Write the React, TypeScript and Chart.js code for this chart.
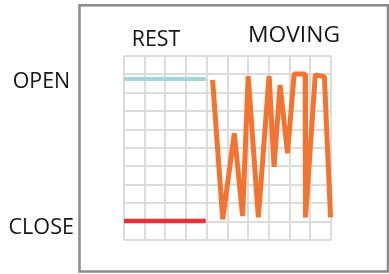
import React, { useEffect, useRef } from "react";
import { Chart, registerables } from "chart.js";

Chart.register(...registerables);

const restX = [0, 3.95];
const openLevel = [8.75, 8.75];
const closeLevel = [1.03, 1.03];
const movingX = [4.28, 4.77, 5.33, 5.73, 6.0, 6.49, 7.01, 7.25, 7.54, 7.9, 8.22, 8.75, 8.77, 9.24, 9.68, 9.98];
const movingY = [8.7, 1.12, 5.8, 1.3, 8.91, 1.23, 8.91, 3.98, 8.42, 4.71, 9.02, 9.02, 1.23, 8.97, 8.88, 1.23];
const stateLabels = ["OPEN", "CLOSE"];
const phaseLabels = ["REST", "MOVING"];

function fitText(ctx: any, text: string, x: number, y: number, w: number) {
  const m = ctx.measureText(text).width;
  const s = w / m;
  ctx.save();
  ctx.translate(x, y);
  ctx.scale(s, 1);
  ctx.fillText(text, 0, 0);
  ctx.restore();
}

const decor = {
  id: "decor",
  beforeDraw(chart: any) {
    const ctx = chart.ctx;
    ctx.save();
    ctx.fillStyle = "#ffffff";
    ctx.fillRect(0, 0, chart.width, chart.height);
    ctx.strokeStyle = "#8a8a8a";
    ctx.lineWidth = 2.5;
    ctx.strokeRect(79.5, 5.3, 308.5, 266.2);
    ctx.restore();
  },
  afterDraw(chart: any) {
    const ctx = chart.ctx;
    ctx.save();
    ctx.fillStyle = "#151515";
    ctx.font = '21px "Open Sans"';
    ctx.textBaseline = "alphabetic";
    ctx.textAlign = "left";
    fitText(ctx, stateLabels[0], 12.7, 88, 57.5);
    fitText(ctx, stateLabels[1], 8.5, 234, 65.5);
    fitText(ctx, phaseLabels[0], 131.7, 45.8, 48.5);
    fitText(ctx, phaseLabels[1], 248, 42.3, 92);
    ctx.restore();
  },
};

export default function App() {
  const ref = useRef<HTMLCanvasElement>(null);
  useEffect(() => {
    const chart = new Chart(ref.current!, {
      type: "scatter",
      data: {
        datasets: [
          {
            data: restX.map((x, i) => ({ x, y: openLevel[i] })),
            showLine: true,
            borderColor: "#9fd8d6",
            borderWidth: 4,
            pointRadius: 0,
          },
          {
            data: restX.map((x, i) => ({ x, y: closeLevel[i] })),
            showLine: true,
            borderColor: "#e8303a",
            borderWidth: 4.5,
            pointRadius: 0,
          },
          {
            data: movingX.map((x, i) => ({ x, y: movingY[i] })),
            showLine: true,
            borderColor: "#f27430",
            borderWidth: 5,
            pointRadius: 0,
            borderJoinStyle: "bevel",
          },
        ],
      },
      options: {
        responsive: false,
        animation: false,
        clip: false,
        layout: { padding: { left: 124, top: 56, right: 58, bottom: 34 } },
        plugins: { legend: { display: false }, tooltip: { enabled: false } },
        scales: {
          x: {
            type: "linear",
            min: 0,
            max: 10,
            ticks: { display: false, stepSize: 1 },
            grid: { color: "#dcdcdc", lineWidth: 2, drawTicks: false },
            border: { display: false },
          },
          y: {
            type: "linear",
            min: 0,
            max: 10,
            ticks: { display: false, stepSize: 1 },
            grid: { color: "#dcdcdc", lineWidth: 2, drawTicks: false },
            border: { display: false },
          },
        },
      },
      plugins: [decor],
    } as any);
    return () => chart.destroy();
  }, []);
  return (
    <div style={{ position: "fixed", left: 0, top: 0, width: 389, height: 274 }}>
      <canvas ref={ref} width={389} height={274} style={{ display: "block" }} />
    </div>
  );
}
